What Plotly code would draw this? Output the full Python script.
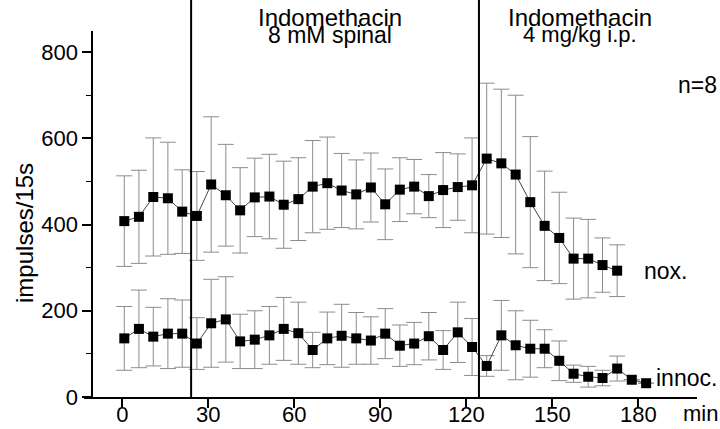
import plotly.graph_objects as go

# time positions (min) of the 5-min samples
time_min = [0.7, 5.8, 10.8, 15.9, 20.9, 26.0, 31.0, 36.1, 41.1, 46.2, 51.3, 56.3,
            61.4, 66.4, 71.5, 76.5, 81.6, 86.7, 91.7, 96.8, 101.8, 106.9, 111.9,
            117.0, 122.0, 127.1, 132.2, 137.2, 142.3, 147.3, 152.4, 157.4, 162.5,
            167.5, 172.6, 177.7, 182.7]

nox_mean = [408, 418, 464, 461, 430, 420, 493, 468, 433, 463, 465, 446, 459, 488,
            496, 479, 470, 486, 447, 481, 488, 466, 480, 487, 491, 553, 542, 516,
            452, 397, 369, 321, 321, 306, 293]
nox_sem = [105, 108, 137, 130, 97, 103, 157, 118, 99, 91, 98, 101, 96, 107, 107,
           86, 80, 80, 82, 74, 63, 50, 87, 77, 110, 175, 172, 184, 152, 127, 106,
           94, 91, 63, 60]

innoc_mean = [136, 158, 140, 147, 147, 124, 171, 180, 129, 133, 143, 158, 148, 109,
              136, 142, 136, 131, 147, 119, 124, 141, 109, 150, 116, 72, 143, 120,
              112, 112, 84, 54, 47, 44, 66, 40, 32]
innoc_sem = [74, 90, 68, 81, 78, 60, 102, 99, 63, 67, 67, 73, 72, 41, 61, 73, 60,
             55, 58, 48, 49, 55, 45, 70, 66, 24, 81, 80, 66, 44, 46, 20, 24, 18,
             29, 0, 0]

x_ticks = [0, 30, 60, 90, 120, 150, 180]
y_ticks = [0, 200, 400, 600, 800]
treatment_times = [24.0, 124.4]

FONT = "Liberation Sans, Arial, sans-serif"

fig = go.Figure()

for mean, sem in [(nox_mean, nox_sem), (innoc_mean, innoc_sem)]:
    n = len(mean)
    fig.add_trace(go.Scatter(
        x=time_min[:n], y=mean,
        mode="lines+markers",
        line=dict(color="#444444", width=1),
        marker=dict(symbol="square", size=10, color="black"),
        error_y=dict(type="data", array=sem, visible=True,
                     color="#8c8c8c", thickness=1, width=8),
        showlegend=False,
    ))

for t in treatment_times:
    fig.add_shape(type="line", xref="x", yref="paper", x0=t, x1=t, y0=0, y1=1.09,
                  line=dict(color="black", width=2))

def ann(size=23):
    return dict(showarrow=False, xanchor="center", yanchor="middle",
                font=dict(family=FONT, size=size, color="black"))

fig.add_annotation(text="Indomethacin", xref="x", yref="paper", x=72.5, y=1.037, **ann(24))
fig.add_annotation(text="8 mM spinal", xref="x", yref="paper", x=72.5, y=0.99, **ann(23))
fig.add_annotation(text="Indomethacin", xref="x", yref="paper", x=159.5, y=1.037, **ann(24))
fig.add_annotation(text="4 mg/kg i.p.", xref="x", yref="paper", x=159.5, y=0.99, **ann(22))
fig.add_annotation(text="n=8", xref="paper", yref="y", x=1.0, y=723, **ann())
fig.add_annotation(text="nox.", xref="x", yref="y", x=189.3, y=293, **ann())
fig.add_annotation(text="innoc.", xref="x", yref="y", x=196.8, y=43, **ann())
fig.add_annotation(text="min", xref="paper", yref="paper", x=1.005, y=-0.044, **ann(22))
fig.add_annotation(text="impulses/15s", xref="paper", yref="paper", x=-0.098, y=0.448,
                   textangle=-90, **ann(24))

fig.update_layout(
    width=720, height=429,
    margin=dict(l=84, r=23, t=31, b=32, autoexpand=False),
    paper_bgcolor="white", plot_bgcolor="white",
    font=dict(family=FONT, size=22, color="black"),
    xaxis=dict(range=[-13.36, 200.45], showline=True, linewidth=2, linecolor="black",
               ticks="outside", ticklen=9, tickwidth=1.5, tickcolor="black",
               tickvals=x_ticks, showgrid=False, zeroline=False, automargin=False,
               ticklabelstandoff=-12,
               tickfont=dict(family=FONT, size=22)),
    yaxis=dict(range=[0, 849], anchor="free", position=0.0135,
               showline=True, linewidth=2, linecolor="black",
               ticks="outside", ticklen=9, tickwidth=1.5, tickcolor="black",
               tickvals=y_ticks, showgrid=False, zeroline=False, automargin=False,
               minor=dict(tickvals=[100, 300, 500, 700], ticks="outside", ticklen=5,
                          tickcolor="black", tickwidth=1, showgrid=False),
               tickfont=dict(family=FONT, size=22)),
)

fig.write_html("out.html", config={"displayModeBar": False},
               post_script="document.body.style.margin='0';document.body.style.overflow='hidden';")
